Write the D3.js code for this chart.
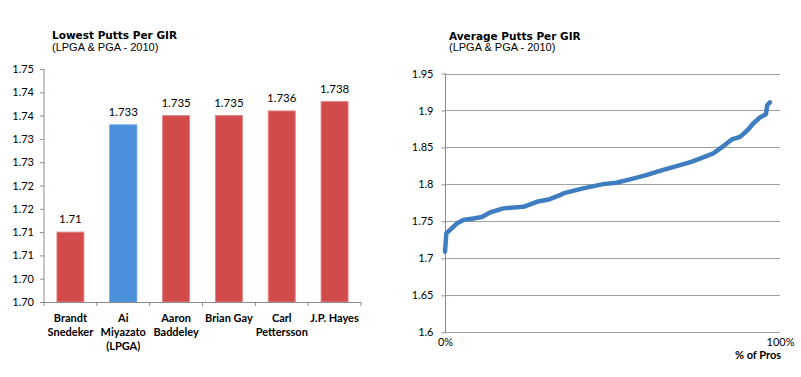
<!DOCTYPE html>
<html><head><meta charset="utf-8">
<script src="https://cdn.jsdelivr.net/npm/d3@7"></script>
<style>
body{margin:0;background:#fff;}
svg{display:block;}
.lbl{font-family:Lato,"Liberation Sans",sans-serif;}
</style></head>
<body><svg id="c" width="801" height="377"></svg>
<script>
// ---- Left chart data ----
const players = ["Brandt Snedeker","Ai Miyazato (LPGA)","Aaron Baddeley","Brian Gay","Carl Pettersson","J.P. Hayes"];
const playerLines = [["Brandt","Snedeker"],["Ai","Miyazato","(LPGA)"],["Aaron","Baddeley"],["Brian Gay"],["Carl","Pettersson"],["J.P. Hayes"]];
const puttsLowest = [1.71, 1.733, 1.735, 1.735, 1.736, 1.738];
const valueLabels = ["1.71","1.733","1.735","1.735","1.736","1.738"];
const isLPGA = [false, true, false, false, false, false];
const leftTicks = [1.695,1.700,1.705,1.710,1.715,1.720,1.725,1.730,1.735,1.740,1.745];
const leftTickLabels = ["1.70","1.70","1.71","1.71","1.72","1.72","1.73","1.73","1.74","1.74","1.75"];

// ---- Right chart data ----
const pctPros = [0,0.4,2.0,3.5,5.5,8.5,11.0,13.4,17.4,23.4,27.4,31.3,34.3,35.3,41.2,47.2,51.2,55.2,60.1,64.1,69.1,73.5,76.1,80.1,83.1,85.6,88.1,90.5,92.0,94.0,95.8,96.2,97.0];
const puttsAvg = [1.709,1.734,1.7405,1.747,1.7518,1.754,1.756,1.762,1.7676,1.7697,1.7765,1.780,1.7855,1.7878,1.7946,1.8004,1.8022,1.8068,1.8126,1.8184,1.8247,1.8305,1.835,1.8419,1.8518,1.8608,1.8644,1.8743,1.8824,1.8905,1.895,1.907,1.911];
const rightTicks = [1.6,1.65,1.7,1.75,1.8,1.85,1.9,1.95];
const rightTickLabels = ["1.6","1.65","1.7","1.75","1.8","1.85","1.9","1.95"];
const xTickVals = [0,100];
const xTickLabels = ["0%","100%"];

const svg = d3.select("#c");
const axisCol = "#8c8c8c";

// ================= LEFT =================
const L = {x0:44, x1:361, y0:302, y1:69};
const xL = d3.scaleBand().domain(players).range([L.x0, L.x1]).paddingInner(0.49).paddingOuter(0.245);
const yL = d3.scaleLinear().domain([1.695,1.745]).range([L.y0, L.y1]);

svg.append("text").attr("x",52).attr("y",39).attr("font-family","DejaVu Sans").attr("font-weight","bold").attr("font-size",10.5).attr("fill","#000").text("Lowest Putts Per GIR");
svg.append("text").attr("x",52).attr("y",50.5).attr("font-family","Liberation Sans").attr("font-size",11).attr("fill","#000").text("(LPGA & PGA - 2010)");

const gyL = svg.append("g").attr("transform",`translate(${L.x0},0)`)
  .call(d3.axisLeft(yL).tickValues(leftTicks).tickFormat((d,i)=>leftTickLabels[i]).tickSize(4).tickPadding(6));
gyL.select(".domain").attr("stroke",axisCol).attr("d",`M0,${L.y0}V${L.y1}`);
gyL.selectAll(".tick line").attr("stroke",axisCol);
gyL.selectAll(".tick text").attr("font-family","Lato").attr("font-size",11).attr("fill","#000");

svg.selectAll("rect.bar").data(players).join("rect").attr("class","bar")
  .attr("x",d=>xL(d)).attr("width",xL.bandwidth())
  .attr("y",(d,i)=>yL(puttsLowest[i])).attr("height",(d,i)=>L.y0-yL(puttsLowest[i]))
  .attr("fill",(d,i)=>isLPGA[i]?"#4a8fd9":"#d04b4a")
  .attr("stroke",(d,i)=>isLPGA[i]?"#5d9be0":"#e08585").attr("stroke-width",1);

svg.selectAll("text.vl").data(players).join("text").attr("class","vl")
  .attr("x",d=>xL(d)+xL.bandwidth()/2).attr("y",(d,i)=>yL(puttsLowest[i])-9)
  .attr("text-anchor","middle").attr("font-family","Lato").attr("font-size",11.5).attr("fill","#000")
  .text((d,i)=>valueLabels[i]);

// x axis line + boundary ticks
const step = xL.step();
svg.append("line").attr("x1",L.x0-4).attr("x2",L.x1).attr("y1",L.y0+0.5).attr("y2",L.y0+0.5).attr("stroke",axisCol);
const bounds = d3.range(players.length+1).map(i=>L.x0 + i*(L.x1-L.x0)/players.length);
svg.selectAll("line.bt").data(bounds).join("line").attr("class","bt")
  .attr("x1",d=>d).attr("x2",d=>d).attr("y1",L.y0).attr("y2",L.y0+4).attr("stroke",axisCol);

const catG = svg.selectAll("text.cat").data(players).join("text").attr("class","cat")
  .attr("x",d=>xL(d)+xL.bandwidth()/2).attr("y",322)
  .attr("text-anchor","middle").attr("font-family","Lato").attr("font-weight","bold").attr("font-size",11).attr("fill","#000");
catG.each(function(d,i){
  d3.select(this).selectAll("tspan").data(playerLines[i]).join("tspan")
    .attr("x",xL(d)+xL.bandwidth()/2).attr("dy",(t,j)=>j===0?0:14.2).text(t=>t);
});

// ================= RIGHT =================
const R = {x0:445, x1:780, y0:332.3, y1:73.5};
const xR = d3.scaleLinear().domain([0,100]).range([R.x0, R.x1]);
const yR = d3.scaleLinear().domain([1.6,1.95]).range([R.y0, R.y1]);

svg.append("text").attr("x",449).attr("y",39.5).attr("font-family","DejaVu Sans").attr("font-weight","bold").attr("font-size",10.5).attr("fill","#000").text("Average Putts Per GIR");
svg.append("text").attr("x",449).attr("y",50.5).attr("font-family","Liberation Sans").attr("font-size",11).attr("fill","#000").text("(LPGA & PGA - 2010)");

// gridlines
svg.append("g").selectAll("line").data(rightTicks).join("line")
  .attr("x1",R.x0).attr("x2",R.x1).attr("y1",d=>Math.round(yR(d))+0.5).attr("y2",d=>Math.round(yR(d))+0.5)
  .attr("stroke","#a0a0a0");

const gyR = svg.append("g").attr("transform",`translate(${R.x0+0.5},0)`)
  .call(d3.axisLeft(yR).tickValues(rightTicks).tickFormat((d,i)=>rightTickLabels[i]).tickSize(4).tickPadding(8));
gyR.select(".domain").attr("stroke",axisCol).attr("d",`M0,${R.y0}V${R.y1}`);
gyR.selectAll(".tick line").attr("stroke",axisCol);
gyR.selectAll(".tick text").attr("font-family","Lato").attr("font-size",11).attr("fill","#000");

const gxR = svg.append("g").attr("transform",`translate(0,${R.y0})`)
  .call(d3.axisBottom(xR).tickValues(xTickVals).tickFormat((d,i)=>xTickLabels[i]).tickSize(0).tickPadding(6));
gxR.select(".domain").remove();
gxR.selectAll(".tick text").attr("font-family","Lato").attr("font-size",11).attr("fill","#000");

svg.append("text").attr("x",758).attr("y",359).attr("text-anchor","middle").attr("font-family","Lato").attr("font-weight","bold").attr("font-size",11).attr("fill","#000").text("% of Pros");

const line = d3.line().x((d,i)=>xR(pctPros[i])).y(d=>yR(d));
svg.append("path").datum(puttsAvg).attr("d",line).attr("fill","none")
  .attr("stroke","#3e7dc0").attr("stroke-width",4.5).attr("stroke-linejoin","round").attr("stroke-linecap","round");
</script>
</body></html>
